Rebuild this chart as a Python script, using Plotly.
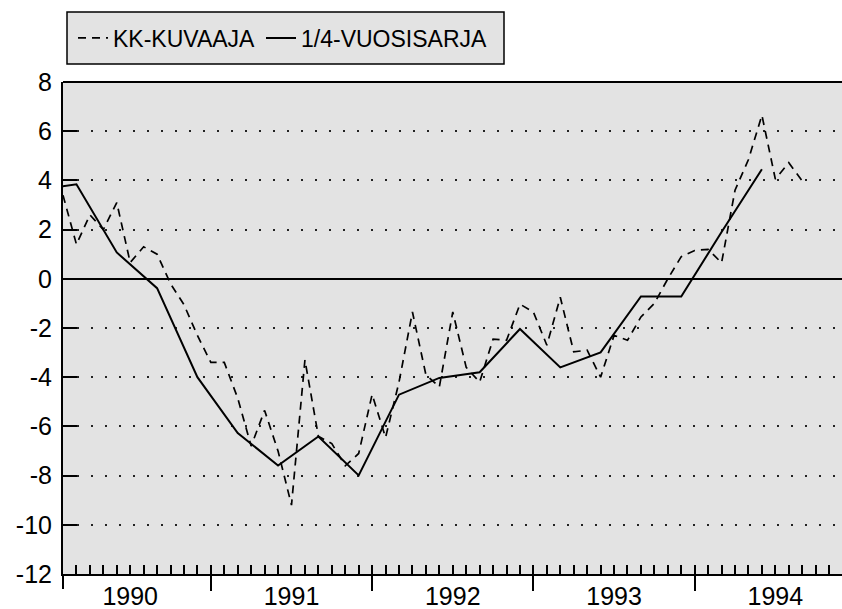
import plotly.graph_objects as go

# ---------------- data ----------------
years = [1990, 1991, 1992, 1993, 1994]
year_labels = ["1990", "1991", "1992", "1993", "1994"]

# Monthly series (KK-KUVAAJA), Jan 1990 .. Aug 1994
kk_1990 = [3.4, 1.4, 2.6, 2.0, 3.1, 0.66, 1.3, 1.0, -0.2, -1.05, -2.3, -3.4]
kk_1991 = [-3.4, -4.85, -6.8, -5.35, -7.0, -9.2, -3.3, -6.4, -6.7, -7.6, -7.1, -4.7]
kk_1992 = [-6.45, -4.2, -1.35, -3.9, -4.4, -1.35, -3.6, -4.2, -2.45, -2.5, -1.03, -1.35]
kk_1993 = [-2.7, -0.75, -2.97, -2.9, -4.0, -2.3, -2.5, -1.55, -1.0, 0.0, 0.9, 1.15]
kk_1994 = [1.2, 0.65, 3.6, 4.85, 6.65, 4.05, 4.72, 3.98]
kk_values = kk_1990 + kk_1991 + kk_1992 + kk_1993 + kk_1994

# Quarterly series (1/4-VUOSISARJA), Q4 1989 .. Q2 1994
q_labels = ["1989Q4",
            "1990Q1", "1990Q2", "1990Q3", "1990Q4",
            "1991Q1", "1991Q2", "1991Q3", "1991Q4",
            "1992Q1", "1992Q2", "1992Q3", "1992Q4",
            "1993Q1", "1993Q2", "1993Q3", "1993Q4",
            "1994Q1", "1994Q2"]
q_values = [3.6,
            3.84, 1.07, -0.38, -4.0,
            -6.27, -7.59, -6.41, -7.99,
            -4.71, -4.03, -3.8, -2.04,
            -3.6, -2.99, -0.72, -0.72,
            1.9, 4.45]

y_ticks = [-12, -10, -8, -6, -4, -2, 0, 2, 4, 6, 8]

# ------------- positions (months since Jan 1990) -------------
kk_x = list(range(len(kk_values)))


def q_pos(label):
    y = int(label[:4])
    q = int(label[-1])
    return (y - 1990) * 12 + 3 * q - 2  # middle month of quarter


q_x = [q_pos(s) for s in q_labels]

month_ticks = list(range(0, 58))
year_bounds = [(y - 1990) * 12 + 11 for y in years[:-1]]
year_centers = [(y - 1990) * 12 + 5 for y in years]

X_RANGE = [0, 57.96]
Y_RANGE = [-12, 8]

W, H = 842, 609
ML, MR, MT, MB = 63, 0, 82, 35
PW = W - ML - MR
PH = H - MT - MB

BG = "#e3e3e3"
FONT = "Liberation Sans, Arial, Helvetica, sans-serif"

fig = go.Figure()

fig.add_trace(go.Scatter(
    x=kk_x, y=kk_values, mode="lines", name="KK-KUVAAJA",
    line=dict(color="black", width=1.7, dash="8px,6px"),
    legend="legend",
))
fig.add_trace(go.Scatter(
    x=q_x, y=q_values, mode="lines", name="1/4-VUOSISARJA",
    line=dict(color="black", width=2),
    legend="legend2",
))
# empty helpers so the overlay axes get drawn
fig.add_trace(go.Scatter(x=[], y=[], xaxis="x2", showlegend=False, hoverinfo="skip"))
fig.add_trace(go.Scatter(x=[], y=[], xaxis="x3", showlegend=False, hoverinfo="skip"))


def px_x(p):
    return (p - ML) / PW


def px_y(p):
    return (H - MB - p) / PH


shapes = [
    # legend box
    dict(type="rect", xref="paper", yref="paper",
         x0=px_x(67), x1=px_x(504), y0=px_y(64), y1=px_y(12),
         fillcolor=BG, line=dict(color="black", width=1.5), layer="below"),
    # top border
    dict(type="line", xref="paper", yref="paper", x0=0, x1=1, y0=1, y1=1,
         line=dict(color="black", width=2)),
    # y axis extension below the x axis
    dict(type="line", xref="paper", yref="paper", x0=0, x1=0, y0=0, y1=px_y(589),
         line=dict(color="black", width=2)),
]

legend_common = dict(
    orientation="h", xanchor="left", yanchor="middle",
    bgcolor="rgba(0,0,0,0)", borderwidth=0,
    font=dict(family=FONT, size=23, color="black"),
    itemwidth=30,
)

fig.update_layout(
    width=W, height=H,
    margin=dict(l=ML, r=MR, t=MT, b=MB, pad=0, autoexpand=False),
    paper_bgcolor="white",
    plot_bgcolor=BG,
    font=dict(family=FONT, color="black"),
    shapes=shapes,
    showlegend=True,
    legend=dict(x=px_x(73), y=px_y(38), **legend_common),
    legend2=dict(x=px_x(261), y=px_y(38), **legend_common),
    xaxis=dict(
        range=X_RANGE, showgrid=False, zeroline=False,
        showline=True, linecolor="black", linewidth=2,
        tickmode="array", tickvals=year_centers, ticktext=year_labels,
        ticks="", tickfont=dict(size=25, family=FONT, color="black"),
        ticklabelstandoff=-1,
    ),
    xaxis2=dict(
        range=X_RANGE, overlaying="x", anchor="y", side="bottom",
        showgrid=False, zeroline=False, showline=False,
        tickmode="array", tickvals=year_bounds,
        ticks="outside", ticklen=16, tickwidth=2, tickcolor="black",
        showticklabels=False,
    ),
    xaxis3=dict(
        range=X_RANGE, overlaying="x", anchor="y", side="bottom",
        showgrid=False, zeroline=False, showline=False,
        tickmode="array", tickvals=month_ticks,
        ticks="inside", ticklen=9, tickwidth=1.5, tickcolor="black",
        showticklabels=False,
    ),
    yaxis=dict(
        range=Y_RANGE, tickmode="array", tickvals=y_ticks,
        ticktext=[str(v) for v in y_ticks],
        ticks="inside", ticklen=14, tickwidth=2, tickcolor="black",
        showline=True, linecolor="black", linewidth=2,
        showgrid=True, gridcolor="#222222", gridwidth=2, griddash="2px,12px",
        zeroline=True, zerolinecolor="black", zerolinewidth=1.6,
        tickfont=dict(size=25, family=FONT, color="black"),
        ticklabelstandoff=4,
    ),
)

fig.write_html(
    "out.html",
    config={"displayModeBar": False},
    post_script="document.body.style.margin='0';document.body.style.overflow='hidden';",
)
